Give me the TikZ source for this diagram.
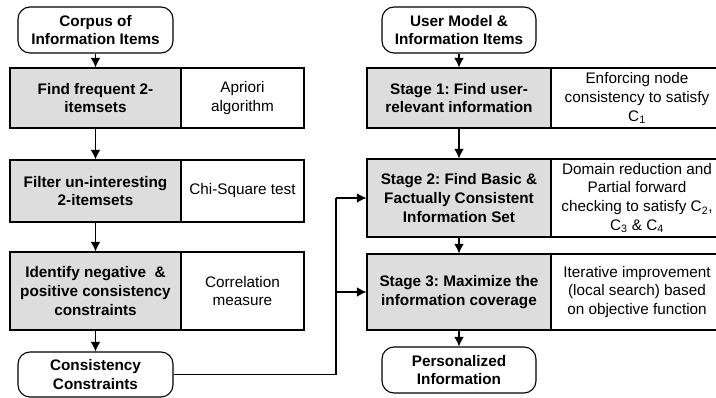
\documentclass[tikz,border=0pt]{standalone}
\usepackage{fontspec}
\setmainfont{Liberation Sans}
\usetikzlibrary{arrows.meta}
\definecolor{boxgray}{HTML}{DDDDDD}
\frenchspacing
\begin{document}
\begin{tikzpicture}[x=1pt,y=-1pt,
  every node/.style={font=\fontsize{15.3}{18.8}\selectfont, align=center, inner sep=0pt},
  term/.style={draw, rounded corners=12pt, line width=1.1pt, fill=white,
    font=\fontsize{15.3}{18.8}\selectfont\bfseries},
  stepgray/.style={draw, fill=boxgray, line width=1.1pt,
    font=\fontsize{15.3}{18.8}\selectfont\bfseries},
  stepnote/.style={draw, fill=white, line width=1.1pt},
  flow/.style={line width=1.1pt, -{Latex[length=9.5pt,width=9.5pt]}},
  link/.style={line width=1.1pt}
]
\useasboundingbox (0,0) rectangle (716,398);

% left column: mining the consistency constraints
\node[term, minimum width=155, minimum height=46] (corpus) at (95.5,30)
  {Corpus of\\Information Items};
\node[stepgray, minimum width=171, minimum height=60] (f1g) at (95.5,98)
  {Find frequent 2-\\itemsets};
\node[stepnote, minimum width=123, minimum height=60] (f1w) at (242.5,98)
  {Apriori\\algorithm};
\node[stepgray, minimum width=171, minimum height=62] (f2g) at (95.5,191)
  {Filter un-interesting\\2-itemsets};
\node[stepnote, minimum width=123, minimum height=62] (f2w) at (242.5,191)
  {Chi-Square test};
\node[stepgray, minimum width=171, minimum height=78] (f3g) at (95.5,291)
  {Identify negative\ \ \&\\positive consistency\\constraints};
\node[stepnote, minimum width=123, minimum height=78] (f3w) at (242.5,291)
  {Correlation\\measure};
\node[term, minimum width=155, minimum height=45] (cons) at (95.5,374.5)
  {Consistency\\Constraints};

% right column: personalisation stages
\node[term, minimum width=154, minimum height=46] (um) at (459,30)
  {User Model \&\\Information Items};
\node[stepgray, minimum width=184, minimum height=60] (s1g) at (459,98)
  {Stage 1: Find user-\\relevant information};
\node[stepnote, minimum width=172, minimum height=60] (s1w) at (637,98)
  {Enforcing node\\consistency to satisfy\\C\textsubscript{1}};
\node[stepgray, minimum width=184, minimum height=78] (s2g) at (459,198)
  {Stage 2: Find Basic \&\\Factually Consistent\\Information Set};
\node[stepnote, minimum width=172, minimum height=78] (s2w) at (637,198)
  {Domain reduction and\\Partial forward\\checking to satisfy C\textsubscript{2},\\C\textsubscript{3} \& C\textsubscript{4}};
\node[stepgray, minimum width=184, minimum height=76] (s3g) at (459,292)
  {Stage 3: Maximize the\\information coverage};
\node[stepnote, minimum width=172, minimum height=76] (s3w) at (637,292)
  {Iterative improvement\\(local search) based\\on objective function};
\node[term, minimum width=154, minimum height=46] (pers) at (459,370)
  {Personalized\\Information};

% vertical flow
\draw[flow] (corpus.south) -- (f1g.north);
\draw[flow] (f1g.south) -- (f2g.north);
\draw[flow] (f2g.south) -- (f3g.north);
\draw[flow] (f3g.south) -- (cons.north);
\draw[flow] (um.south) -- (s1g.north);
\draw[flow] (s1g.south) -- (s2g.north);
\draw[flow] (s2g.south) -- (s3g.north);
\draw[flow] (s3g.south) -- (pers.north);

% constraints feed stages 2 and 3
\coordinate (j2) at (336,198);
\coordinate (j3) at (336,292);
\draw[link] (cons.east) -| (j2);
\draw[flow] (j2) -- (s2g.west);
\draw[flow] (j3) -- (s3g.west);
\end{tikzpicture}
\end{document}
